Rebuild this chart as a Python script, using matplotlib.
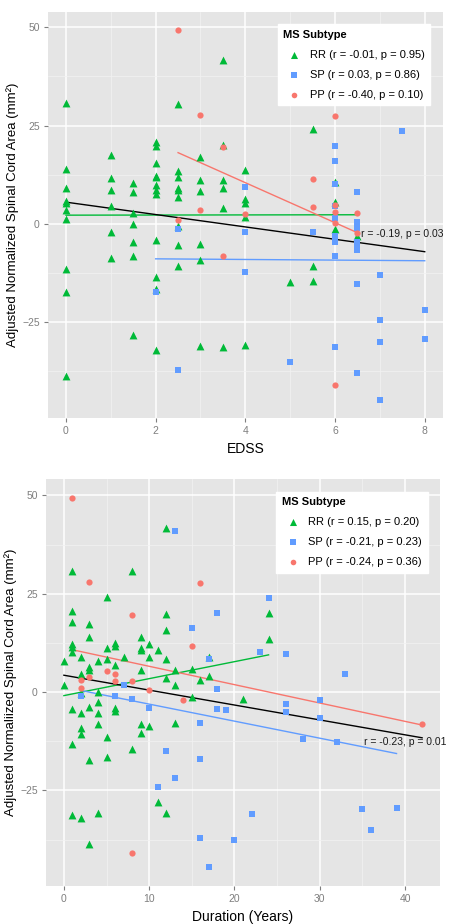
import matplotlib
matplotlib.use("Agg")
import matplotlib.pyplot as plt
import numpy as np

plt.rcParams['font.family'] = ['Liberation Sans', 'DejaVu Sans']

# ---- top panel: EDSS ----
edss_rr = [0,0,0,0,0,0,0,0,0,0, 1,1,1,1,1,1, 1.5,1.5,1.5,1.5,1.5,1.5,1.5,
           2,2,2,2,2,2,2,2,2,2,2,2, 2.5,2.5,2.5,2.5,2.5,2.5,2.5,2.5,2.5,
           3,3,3,3,3,3, 3.5,3.5,3.5,3.5,3.5,3.5, 4,4,4,4,4, 5, 5.5,5.5,5.5, 6,6,6, 6.5]
area_rr_edss = [30.7,14.0,9.0,5.9,5.3,3.4,1.3,-11.6,-17.4,-38.8, 17.4,11.6,8.5,4.5,-2.0,-8.7,
                10.5,8.0,2.8,-0.1,-4.6,-8.3,-28.2,
                20.7,19.8,15.6,12.3,11.8,10.0,8.7,7.7,-4.2,-13.4,-16.5,-32.1,
                30.6,13.5,12.0,9.0,8.5,6.9,-0.6,-5.5,-10.8,
                17.1,11.1,8.3,-5.0,-9.3,-31.0, 41.7,20.0,11.1,9.0,4.1,-31.3,
                13.8,6.2,5.4,1.7,-30.9, -14.7, 24.1,-10.6,-14.6, 10.7,5.6,-1.4, -3.0]

edss_sp = [2, 2.5,2.5, 4,4,4, 5, 5.5, 6,6,6,6,6,6,6,6,6, 6.5,6.5,6.5,6.5,6.5,6.5,6.5,6.5,
           7,7,7,7, 7.5, 8,8]
area_sp_edss = [-17.4, -1.3,-37.2, 9.5,-2.1,-12.3, -35.2, -2.0,
                19.9,16.1,10.1,4.5,1.5,-3.0,-4.7,-8.2,-31.3,
                8.2,0.5,-1.0,-4.7,-5.3,-6.7,-15.2,-37.9,
                -12.9,-24.4,-30.0,-44.7, 23.7, -21.8,-29.4]

edss_pp = [2.5,2.5, 3,3, 3.5,3.5, 4, 5.5,5.5, 6,6,6,6,6, 6.5,6.5]
area_pp_edss = [49.2,1.0, 27.8,3.6, 19.6,-8.1, 2.5, 11.5,4.3, 27.5,4.9,3.0,0.3,-41.0, 2.7,-2.3]

labels_edss = ["RR (r = -0.01, p = 0.95)", "SP (r = 0.03, p = 0.86)", "PP (r = -0.40, p = 0.10)"]
note_edss = "r = -0.19, p = 0.03"

# ---- bottom panel: disease duration ----
dur_rr = [12,1,8,5,1,12,1,3,12,3, 9,1,1,6,6,10,5,9,9,11, 1,2,7,10,12,0,4,5,17,6,
          3,3,9,13,15,2,12,17,16,0, 13,2,4,15,21,1,3,4,6,6, 2,4,2,2,4,9,10,9,13,5,
          1,8,5,3,11,12,1,2,4,3, 24,24]
area_rr_dur = [41.8,30.9,30.9,24.2,20.6,19.8,17.7,17.2,15.9,14.0,
               14.1,12.2,11.5,12.4,11.8,12.2,11.3,11.1,10.7,10.7,
               10.2,9.0,9.0,8.8,8.5,7.8,8.0,8.3,9.0,6.9,
               6.3,5.6,5.7,5.5,5.9,4.5,3.6,4.1,3.0,1.8,
               1.7,-0.3,0.0,-1.3,-1.8,-4.4,-3.8,-2.6,-4.1,-4.8,
               -5.4,-5.4,-9.2,-10.7,-8.0,-8.2,-8.5,-10.5,-7.9,-11.5,
               -13.2,-14.5,-16.4,-17.3,-28.0,-30.7,-31.2,-31.9,-30.8,-38.6,
               20.0,13.5]

dur_sp = [13,18,15,17,7,18,2,6,8,10, 18,19,16,12,16,13,11,16,17,24,
          23,26,33,26,26,30,30,28,32,22, 20,35,36,39]
area_sp_dur = [40.9,20.0,16.4,8.4,1.8,0.8,-1.1,-0.9,-1.8,-4.1,
               -4.3,-4.6,-7.9,-15.0,-17.1,-21.8,-24.2,-37.1,-44.5,23.8,
               10.2,9.7,4.6,-2.9,-5.0,-2.0,-6.5,-12.0,-12.7,-31.1,
               -37.7,-29.8,-35.0,-29.4]

dur_pp = [1,3,16,8,15,5,6,2,3,6,8,2,10,14,8,42]
area_pp_dur = [49.4,28.1,27.7,19.7,11.8,5.3,4.5,3.2,3.9,2.9,2.8,1.1,0.5,-2.0,-40.8,-8.0]

labels_dur = ["RR (r = 0.15, p = 0.20)", "SP (r = -0.21, p = 0.23)", "PP (r = -0.24, p = 0.36)"]
note_dur = "r = -0.23, p = 0.01"

colors = ['#00BA38', '#619CFF', '#F8766D']
markers = ['^', 's', 'o']
sizes = [32, 20, 20]


def fit_line(ax, x, y, color):
    x = np.array(x, dtype=float)
    y = np.array(y, dtype=float)
    m, b = np.polyfit(x, y, 1)
    xx = np.array([x.min(), x.max()])
    ax.plot(xx, m * xx + b, color=color, lw=1.0, zorder=2)


def draw_panel(ax, groups, labels, xlabel, ylabel, xmajor, xminor, note, note_x, note_y):
    ax.set_facecolor('#E5E5E5')
    for s in ax.spines.values():
        s.set_visible(False)

    handles = []
    for (x, y), lab, c, mk, sz in zip(groups, labels, colors, markers, sizes):
        h = ax.scatter(x, y, marker=mk, s=sz, color=c, linewidths=0, zorder=3, label=lab)
        handles.append(h)
    for (x, y), c in zip(groups, colors):
        fit_line(ax, x, y, c)
    all_x = np.concatenate([np.array(g[0], dtype=float) for g in groups])
    all_y = np.concatenate([np.array(g[1], dtype=float) for g in groups])
    fit_line(ax, all_x, all_y, 'black')

    ax.text(note_x, note_y, note, ha='center', va='center', fontsize=7.5, color='#1A1A1A', zorder=4)

    xr = all_x.max() - all_x.min()
    yr = all_y.max() - all_y.min()
    ax.set_xlim(all_x.min() - 0.05 * xr, all_x.max() + 0.05 * xr)
    ax.set_ylim(all_y.min() - 0.05 * yr, all_y.max() + 0.05 * yr)

    ax.set_xticks(xmajor)
    ax.set_xticks(xminor, minor=True)
    ax.set_yticks([-25, 0, 25, 50])
    ax.set_yticks([-37.5, -12.5, 12.5, 37.5], minor=True)
    ax.grid(True, which='major', color='white', lw=1.1, zorder=0)
    ax.grid(True, which='minor', color='#F2F2F2', lw=0.5, zorder=0)
    ax.set_axisbelow(True)
    ax.tick_params(which='major', length=3, color='#7F7F7F', labelcolor='#7F7F7F',
                   labelsize=7.5, pad=3)
    ax.tick_params(which='minor', length=0)

    ax.set_xlabel(xlabel, fontsize=10, labelpad=4)
    ax.set_ylabel(ylabel, fontsize=9.5, labelpad=2)

    leg = ax.legend(handles=handles, loc='upper right', title='MS Subtype', fontsize=8,
                    title_fontproperties={'weight': 'bold', 'size': 8},
                    frameon=True, facecolor='white', edgecolor='white', fancybox=False,
                    framealpha=1, borderaxespad=1.1, labelspacing=0.9, handletextpad=0.4,
                    markerscale=0.9, alignment='left', borderpad=0.5)
    leg.set_zorder(5)


fig = plt.figure(figsize=(4.5, 9.24), dpi=100)
ax1 = fig.add_axes([0.1067, 0.5476, 0.877, 0.4394])
ax2 = fig.add_axes([0.1022, 0.0415, 0.8756, 0.4398])

draw_panel(ax1,
           [(edss_rr, area_rr_edss), (edss_sp, area_sp_edss), (edss_pp, area_pp_edss)],
           labels_edss, 'EDSS', 'Adjusted Normalized Spinal Cord Area (mm²)',
           [0, 2, 4, 6, 8], [1, 3, 5, 7], note_edss, 7.5, -2.7)

draw_panel(ax2,
           [(dur_rr, area_rr_dur), (dur_sp, area_sp_dur), (dur_pp, area_pp_dur)],
           labels_dur, 'Duration (Years)', 'Adjusted Normaliized Spinal Cord Area (mm²)',
           [0, 10, 20, 30, 40], [5, 15, 25, 35], note_dur, 40, -12.6)

fig.savefig('out.png', dpi=100)
